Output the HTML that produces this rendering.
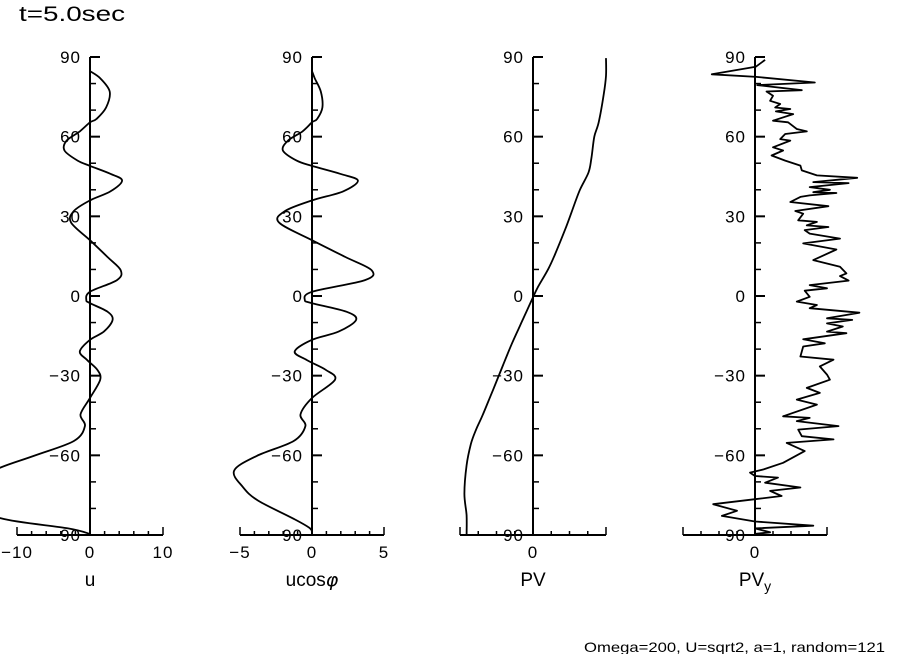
<!DOCTYPE html>
<html><head><meta charset="utf-8"><style>
html,body{margin:0;padding:0;background:#fff;}
svg{display:block;font-family:"Liberation Sans",sans-serif;}
</style></head><body>
<svg id="chart" width="904" height="654" viewBox="0 0 904 654" xmlns="http://www.w3.org/2000/svg">
<text x="19" y="21" font-size="21" textLength="106" lengthAdjust="spacingAndGlyphs" fill="#000">t=5.0sec</text>
<text x="584" y="652" font-size="14" textLength="301" lengthAdjust="spacingAndGlyphs" fill="#000">Omega=200, U=sqrt2, a=1, random=121</text>
</svg>
<script>
// ---- data ----
const uLat = [84.7,82,77,71,66.7,65.4,62,58.5,54.8,51,49,46,43.5,39.4,36,32,27.7,21,14.7,9.7,6,1.6,-1.5,-2.7,-5.9,-9,-13.4,-16.5,-20.9,-24.1,-27.8,-31.5,-38.4,-44.6,-49,-54.6,-60.2,-65.8,-72,-77,-83.7,-87.5,-89.6];
const uVals = [0,1.4,2.7,2.2,0.9,0,-1.4,-3.2,-3.5,-1.7,0,2.8,4.4,2.8,0,-2.2,-2.6,0,2.4,4.2,3.7,0,-0.5,0,2.4,3.1,1.9,0,-1.4,-0.4,1,1.4,0,-1.3,-0.7,-2.2,-7.7,-13.2,-15.5,-16.7,-12.2,-3,0];
const ucosVals = [0,0.19,0.61,0.72,0.36,0,-0.66,-1.67,-2.02,-1.07,0,1.95,3.19,2.16,0,-1.87,-2.3,0,2.32,4.14,3.68,0,-0.5,0,2.39,3.06,1.85,0,-1.2,-0.37,0.95,1.6,0,-0.8,-0.46,-1.27,-3.83,-5.41,-4.79,-3.76,-1.34,-0.13,0];
const pvLat = [89.6,82.9,76.1,65.4,60,51.9,46.5,39.8,31.7,25,15.6,10.2,3.5,-0.5,-5.9,-11.3,-18,-26,-35.5,-44.9,-50.3,-55.7,-63.7,-74.5,-82.6,-89.9];
const pvVals = [1.0,1.0,0.97,0.9,0.84,0.8,0.76,0.64,0.53,0.44,0.3,0.21,0.07,0,-0.09,-0.18,-0.29,-0.41,-0.55,-0.69,-0.78,-0.85,-0.91,-0.94,-0.91,-0.91];
const pvyLat = [88.9,86.3,83.5,82.5,80.4,79.4,77.5,77,75.4,73.5,72.3,71,70.4,69.5,68.5,66,65.4,62.9,62,61,59.1,58.5,56,54.8,52.9,51,49.1,47.3,45.4,44.5,42.9,42.5,41,40,39.1,38.8,37.9,37.3,35.4,33.8,32,31,28.5,27.9,26.6,26,24.8,23.5,21.6,19.8,17.5,13.5,11,8.5,7.5,5.8,4.1,2.9,2,-0.3,-2.1,-3.4,-4.6,-6.3,-8.4,-9,-10.3,-11.5,-13.4,-14,-16.3,-17.8,-19,-22.8,-24,-26.5,-29.6,-31.5,-34.6,-36.5,-39,-40.9,-45.3,-45.9,-47.1,-49,-50.3,-52.8,-54,-55.3,-58.4,-62.8,-65.3,-66.5,-67.8,-68.4,-70.3,-72.1,-73.4,-75.3,-76.5,-78.4,-80.9,-82.8,-84.9,-86.5,-87.5,-89,-89.6];
const pvyVals = [0.14,0.01,-0.6,0.02,0.83,0.03,0.65,0.16,0.25,0.21,0.35,0.28,0.49,0.29,0.53,0.25,0.46,0.58,0.72,0.42,0.35,0.49,0.25,0.39,0.23,0.42,0.63,0.65,0.86,1.42,0.81,1.3,0.76,1.04,0.81,1.13,0.76,0.63,0.49,1.02,0.56,0.67,0.6,0.86,0.72,1.02,0.69,0.76,1.18,0.67,1.13,0.81,1.18,1.27,1.18,1.3,0.76,1.0,0.69,0.76,0.58,0.86,0.76,1.45,1.0,1.35,1.0,1.22,1.0,1.27,0.67,0.97,0.67,0.63,1.09,0.9,1.0,1.04,0.72,0.9,0.58,0.86,0.39,0.76,0.58,1.16,0.6,0.65,1.09,0.44,0.69,0.39,0.12,-0.07,0,0.32,0.14,0.63,0.21,0.37,0,-0.58,-0.25,-0.46,0,0.81,0,0.21,0];
const latTicks = [90,60,30,0,-30,-60,-90];
const latTickLabels = ["90","60","30","0","\u221230","\u221260","\u221290"];

const NS = "http://www.w3.org/2000/svg";
const svg = document.getElementById('chart');
const yTop = 57, yBot = 535;
function yScale(lat){ return yTop + (90 - lat) / 180 * (yBot - yTop); }

function mk(tag, attrs, parent){
  const e = document.createElementNS(NS, tag);
  for (const k in attrs) e.setAttribute(k, attrs[k]);
  (parent || svg).appendChild(e);
  return e;
}

function smoothPath(p){
  let d = 'M' + p[0][0].toFixed(1) + ',' + p[0][1].toFixed(1);
  for (let i = 0; i < p.length - 1; i++) {
    const p0 = p[Math.max(0, i-1)], p1 = p[i], p2 = p[i+1], p3 = p[Math.min(p.length-1, i+2)];
    const c1x = p1[0] + (p2[0]-p0[0])/6, c1y = p1[1] + (p2[1]-p0[1])/6;
    const c2x = p2[0] - (p3[0]-p1[0])/6, c2y = p2[1] - (p3[1]-p1[1])/6;
    d += ' C' + c1x.toFixed(1) + ',' + c1y.toFixed(1) + ' ' + c2x.toFixed(1) + ',' + c2y.toFixed(1) + ' ' + p2[0].toFixed(1) + ',' + p2[1].toFixed(1);
  }
  return d;
}

function panel(cfg){
  const g = mk('g', {});
  
  
  const x0 = cfg.axisX, half = cfg.half;
  const xs = v => x0 + v / cfg.range * half;
  const va = mk('line', {x1:x0, y1:yTop, x2:x0, y2:yBot, stroke:'#000', 'stroke-width':2}, g);
  
  
  for (let lat = -80; lat <= 80; lat += 10) {
    if (lat % 30 === 0) continue;
    mk('line', {x1:x0, y1:yScale(lat), x2:x0+6, y2:yScale(lat), stroke:'#000', 'stroke-width':1.5}, g);
  }
  latTicks.forEach((lat, i) => {
    const y = yScale(lat);
    mk('line', {x1:x0, y1:y, x2:x0+10, y2:y, stroke:'#000', 'stroke-width':2}, g);
    const t = mk('text', {x:x0-9, y:y+6, 'font-size':17, 'text-anchor':'end', 'letter-spacing':'1', fill:'#000'}, g);
    t.textContent = latTickLabels[i];
    
    
  });
  const ha = mk('line', {x1:x0-half, y1:yBot, x2:x0+half, y2:yBot, stroke:'#000', 'stroke-width':2}, g);
  
  
  for (let k = -cfg.nTicks; k <= cfg.nTicks; k++) {
    const x = x0 + k / cfg.nTicks * half;
    const h = (Math.abs(k) === cfg.nTicks) ? 8 : 4;
    mk('line', {x1:x, y1:yBot, x2:x, y2:yBot-h, stroke:'#000', 'stroke-width':1.5}, g);
  }
  cfg.xLabels.forEach(([v, s]) => {
    const t = mk('text', {x:xs(v), y:558, 'font-size':17, 'text-anchor':'middle', 'letter-spacing':'1', fill:'#000'}, g);
    t.textContent = s;
    
    
  });
  const tt = mk('text', {x:x0, y:586, 'font-size':19, 'text-anchor':'middle', fill:'#000'}, g);
  tt.innerHTML = cfg.title;
  
  
  const p = cfg.lat.map((la, i) => [xs(cfg.vals[i]), yScale(la)]);
  let el;
  if (cfg.smooth) {
    el = mk('path', {d:smoothPath(p), fill:'none', stroke:'#000', 'stroke-width':1.8}, g);
  } else {
    el = mk('polyline', {points:p.map(q => q[0].toFixed(1)+','+q[1].toFixed(1)).join(' '), fill:'none', stroke:'#000', 'stroke-width':1.8, 'stroke-linejoin':'round'}, g);
  }
  
  
}

panel({name:'u', axisX:90, half:73, range:10, nTicks:5, lat:uLat, vals:uVals, smooth:true,
  xLabels:[[-10,'\u221210'],[0,'0'],[10,'10']], title:'u'});
panel({name:'ucos', axisX:312, half:72, range:5, nTicks:5, lat:uLat, vals:ucosVals, smooth:true,
  xLabels:[[-5,'\u22125'],[0,'0'],[5,'5']], title:'ucos<tspan font-style="italic" font-family="DejaVu Sans">\u03c6</tspan>'});
panel({name:'pv', axisX:533, half:73, range:1, nTicks:4, lat:pvLat, vals:pvVals, smooth:true,
  xLabels:[[0,'0']], title:'PV'});
panel({name:'pvy', axisX:755, half:72, range:1, nTicks:4, lat:pvyLat, vals:pvyVals, smooth:false,
  xLabels:[[0,'0']], title:'PV<tspan font-size="14" dy="5">y</tspan>'});
</script>
</body></html>
